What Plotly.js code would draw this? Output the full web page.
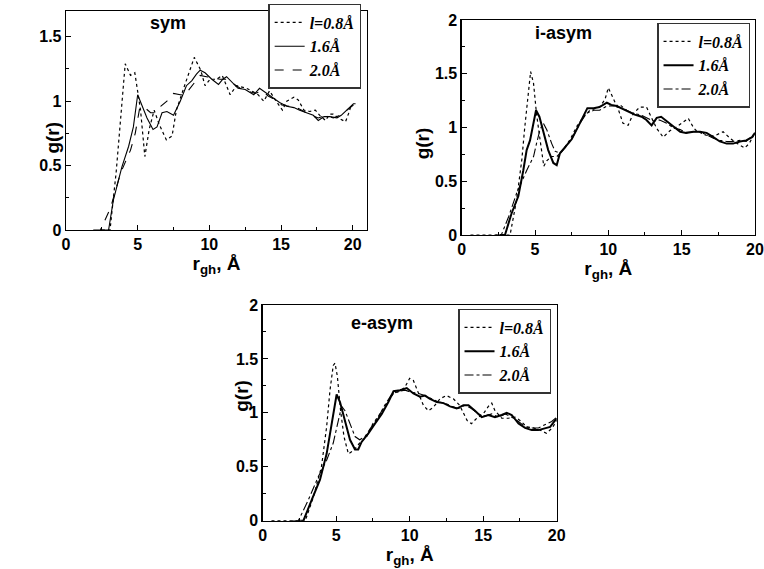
<!DOCTYPE html>
<html>
<head>
<meta charset="utf-8">
<script src="https://cdn.plot.ly/plotly-3.0.1.min.js"></script>
<style>html,body{margin:0;padding:0;background:#fff;}#chart{width:764px;height:569px;}</style>
</head>
<body>
<div id="chart"></div>
<script>
// ---- Panel "sym" ----
const symX_08 = [2.5,3.07,3.5,3.9,4.13,4.5,4.8,5.2,5.5,5.8,6.15,6.5,7.0,7.4,7.7,8.3,8.7,8.95,9.4,9.7,10.05,10.5,10.9,11.2,11.45,11.9,12.6,13.1,13.4,13.8,14.2,14.6,15.1,15.4,15.9,16.2,16.6,17.0,17.4,17.7,18.1,18.4,18.65,19.0,19.5,19.7,19.9];
const symY_08 = [0,0,0.45,1.0,1.29,1.2,1.22,0.93,0.57,0.78,0.93,0.82,0.70,0.73,0.93,1.13,1.25,1.34,1.24,1.12,1.17,1.17,1.2,1.11,1.05,1.12,1.1,1.07,1.05,1.0,1.08,1.01,0.93,1.0,1.03,1.01,0.93,0.92,0.93,0.89,0.85,0.9,0.9,0.87,0.84,0.9,0.97];
const symX_16 = [2.5,2.97,3.3,3.9,4.37,4.7,5.0,5.3,5.65,6.07,6.35,6.7,7.04,7.5,7.97,8.4,8.78,9.1,9.36,9.7,10.17,10.64,10.94,11.2,11.57,12.0,12.5,13.1,13.5,14.0,14.35,14.9,15.4,15.9,16.3,16.8,17.25,17.6,18.0,18.4,18.9,19.2,19.6,20.05,20.2];
const symY_16 = [0,0,0.23,0.49,0.65,0.8,1.05,0.96,0.87,0.78,0.8,0.91,0.92,0.89,1.0,1.12,1.16,1.21,1.24,1.22,1.17,1.13,1.17,1.19,1.15,1.1,1.09,1.05,1.1,1.06,1.03,0.99,0.96,0.95,0.93,0.91,0.89,0.85,0.88,0.88,0.87,0.89,0.93,0.98,0.98];
const symX_20 = [1.9,2.4,3.1,3.8,4.5,4.83,5.13,5.4,5.9,6.2,6.6,7.04,7.5,7.97,8.3,8.65,9.0,9.36,9.8,10.3,10.75,11.2,11.7,12.15,12.6,13.2,13.7,14.1,14.6,15.05,15.6,16.1,16.6,17.1,17.6,18.1,18.65,19.1,19.6,20.05];
const symY_20 = [0,0,0.17,0.44,0.62,0.75,0.94,0.96,0.91,0.91,0.96,1.0,1.06,1.05,1.05,1.10,1.15,1.2,1.19,1.18,1.17,1.17,1.13,1.1,1.08,1.06,1.08,1.04,1.01,0.97,0.96,0.95,0.92,0.89,0.87,0.89,0.87,0.89,0.93,0.97];

// ---- Panel "i-asym" ----
const iX_08 = [0.6,3.3,3.75,4.1,4.3,4.55,4.7,4.9,5.1,5.35,5.6,5.8,6.1,6.5,6.9,7.4,7.85,8.3,8.75,9.4,9.77,10.0,10.34,10.7,11.0,11.35,11.7,12.15,12.6,12.84,13.3,13.74,14.2,14.6,15.0,15.45,15.8,16.0,16.6,17.2,17.83,18.3,18.8,19.3,19.6,20.0];
const iY_08 = [0,0,0.33,0.7,1.0,1.35,1.52,1.41,1.13,0.88,0.64,0.69,0.73,0.73,0.79,0.89,1.01,1.1,1.16,1.19,1.26,1.37,1.26,1.16,1.04,1.02,1.13,1.19,1.19,1.12,0.99,0.91,0.97,1.0,1.04,1.085,1.0,0.97,0.93,0.92,0.96,0.9,0.85,0.81,0.85,0.95];
const iX_16 = [2.6,2.95,3.4,3.86,4.2,4.43,4.66,4.9,5.07,5.3,5.57,5.9,6.25,6.48,6.7,7.05,7.5,7.95,8.3,8.57,9.0,9.4,9.9,10.2,10.57,10.9,11.4,11.8,12.27,12.6,12.95,13.3,13.6,13.98,14.4,14.9,15.3,15.8,16.25,16.7,17.16,17.6,18.07,18.5,18.98,19.4,19.8,20.0];
const iY_16 = [0,0,0.2,0.36,0.6,0.79,0.88,1.04,1.16,1.1,0.95,0.79,0.67,0.65,0.76,0.82,0.89,1.01,1.1,1.18,1.18,1.19,1.23,1.21,1.2,1.18,1.15,1.12,1.1,1.07,1.02,1.09,1.1,1.06,1.01,0.96,0.95,0.96,0.96,0.95,0.91,0.87,0.85,0.85,0.87,0.88,0.91,0.95];
const iX_20 = [2.3,2.7,3.2,3.75,4.43,4.9,5.1,5.34,5.57,5.8,6.14,6.36,6.7,7.05,7.5,8.07,8.5,9.0,9.4,9.9,10.34,10.8,11.25,11.7,12.16,12.6,13.07,13.5,13.98,14.4,14.9,15.3,15.8,16.25,16.7,17.16,17.6,18.07,18.5,18.98,19.4,19.9];
const iY_20 = [0,0,0.17,0.39,0.6,0.73,0.85,0.98,1.04,0.98,0.85,0.78,0.76,0.81,0.89,1.04,1.13,1.16,1.16,1.2,1.2,1.21,1.16,1.13,1.12,1.09,1.06,1.07,1.04,1.0,0.98,0.95,0.96,0.96,0.93,0.9,0.88,0.87,0.87,0.88,0.87,0.93];

// ---- Panel "e-asym" ----
const eX_08 = [0.6,2.9,3.45,4.0,4.35,4.58,4.8,4.92,5.08,5.3,5.53,5.83,6.17,6.6,7.07,7.5,7.98,8.43,8.9,9.34,9.68,10.0,10.25,10.6,10.93,11.27,11.6,12.06,12.5,12.97,13.4,13.9,14.2,14.56,15.0,15.35,15.58,15.8,16.26,16.7,17.16,17.5,17.96,18.4,18.87,19.3,19.7,20.0];
const eY_08 = [0,0,0.22,0.5,0.87,1.21,1.44,1.46,1.34,1.02,0.78,0.62,0.65,0.72,0.78,0.9,0.99,1.09,1.18,1.2,1.24,1.32,1.3,1.18,1.07,1.02,1.05,1.13,1.16,1.13,1.07,0.93,0.9,0.95,0.99,1.06,1.09,1.02,0.95,0.95,0.96,0.93,0.87,0.86,0.84,0.81,0.86,0.93];
const eX_16 = [2.4,2.77,3.33,3.9,4.35,4.76,5.03,5.26,5.6,5.94,6.28,6.5,6.73,7.19,7.64,8.1,8.55,8.9,9.34,9.8,10.25,10.7,11.04,11.38,11.84,12.3,12.74,13.2,13.65,14.0,14.44,14.9,15.35,15.8,16.26,16.6,16.94,17.4,17.85,18.3,18.75,19.2,19.55,20.0];
const eY_16 = [0,0,0.19,0.38,0.62,0.93,1.17,1.1,0.93,0.75,0.66,0.66,0.73,0.81,0.9,0.99,1.1,1.2,1.21,1.23,1.18,1.15,1.16,1.13,1.1,1.09,1.06,1.04,1.07,1.07,1.02,0.96,0.98,0.96,0.98,1.0,0.98,0.9,0.86,0.84,0.84,0.86,0.87,0.95];
const eX_20 = [2.0,2.43,3.1,3.79,4.35,4.8,5.15,5.37,5.6,5.94,6.28,6.6,6.96,7.4,7.87,8.3,8.77,9.23,9.68,10.14,10.6,11.04,11.5,11.95,12.4,12.86,13.3,13.76,14.2,14.67,15.12,15.58,16.03,16.5,16.94,17.4,17.85,18.3,18.75,19.2,19.66,20.0];
const eY_20 = [0,0,0.19,0.41,0.56,0.72,0.93,1.06,1.02,0.9,0.78,0.75,0.78,0.87,0.96,1.07,1.17,1.2,1.21,1.19,1.18,1.16,1.13,1.1,1.09,1.06,1.04,1.07,1.04,0.99,0.97,0.99,0.96,0.99,0.96,0.92,0.87,0.86,0.86,0.89,0.92,0.96];

const legendNames = ["l=0.8Å", "1.6Å", "2.0Å"];
const panelLabels = ["sym", "i-asym", "e-asym"];
const yTitle = "g(r)";
const xTitle = "r<sub>gh</sub>, Å";
const yTickVals = [0, 0.5, 1, 1.5, 2];
const yTickText = ["0", "0.5", "1", "1.5", "2"];
const xTickVals = [0, 5, 10, 15, 20];

const panels = [
  {ax: "", leg: "legend", data: [[symX_08, symY_08, "dot"], [symX_16, symY_16, "solid"], [symX_20, symY_20, "dash"]], lw: [1.2, 1.1, 1.1]},
  {ax: "2", leg: "legend2", data: [[iX_08, iY_08, "dot"], [iX_16, iY_16, "solid"], [iX_20, iY_20, "dashdot"]], lw: [1.2, 2.0, 1.1]},
  {ax: "3", leg: "legend3", data: [[eX_08, eY_08, "dot"], [eX_16, eY_16, "solid"], [eX_20, eY_20, "dashdot"]], lw: [1.2, 2.0, 1.1]}
];

const traces = [];
panels.forEach(p => {
  p.data.forEach((d, i) => {
    traces.push({
      x: d[0], y: d[1], type: "scatter", mode: "lines",
      name: legendNames[i],
      line: {color: "#000", width: p.lw[i], dash: d[2]},
      xaxis: "x" + p.ax, yaxis: "y" + p.ax, legend: p.leg
    });
  });
});

const tickFont = {family: "Liberation Sans, Arial, sans-serif", size: 16, color: "#000", weight: "bold"};
const titleFont = {family: "Liberation Sans, Arial, sans-serif", size: 19, color: "#000", weight: "bold"};

function xAxis(domain, range, anchor) {
  return {
    domain: domain, range: range, anchor: anchor,
    tickvals: xTickVals, ticks: "inside", ticklen: 5, tickwidth: 1, tickcolor: "#000",
    minor: {dtick: 2.5, ticks: "inside", ticklen: 3, tickcolor: "#000"},
    showline: true, linecolor: "#000", linewidth: 1.3, mirror: true,
    showgrid: false, zeroline: false, tickfont: tickFont,
    title: {text: xTitle, font: titleFont, standoff: 2}
  };
}
function yAxis(domain, range, anchor) {
  return {
    domain: domain, range: range, anchor: anchor,
    tickvals: yTickVals, ticktext: yTickText, ticks: "inside", ticklen: 5, tickwidth: 1, tickcolor: "#000",
    minor: {dtick: 0.25, ticks: "inside", ticklen: 3, tickcolor: "#000"},
    showline: true, linecolor: "#000", linewidth: 1.3, mirror: true,
    showgrid: false, zeroline: false, tickfont: tickFont
  };
}

const legFont = {family: "Liberation Serif, Times New Roman, serif", size: 16, color: "#000", weight: "bold", style: "italic"};
function legend(x, y) {
  return {x: x, y: y, xref: "paper", yref: "paper", xanchor: "left", yanchor: "top",
    bordercolor: "#333", borderwidth: 1.5, bgcolor: "#fff", font: legFont,
    tracegroupgap: 0, itemwidth: 30};
}

const annFont = {family: "Liberation Sans, Arial, sans-serif", size: 18, color: "#000", weight: "bold"};

const layout = {
  width: 764, height: 569,
  margin: {l: 0, r: 0, t: 0, b: 0},
  paper_bgcolor: "#fff", plot_bgcolor: "#fff",
  showlegend: true,
  xaxis: xAxis([0.0864, 0.4804], [0, 21], "y"),
  yaxis: yAxis([0.5958, 0.9807], [0, 1.7], "x"),
  xaxis2: xAxis([0.6043, 0.9882], [0, 20], "y2"),
  yaxis2: yAxis([0.587, 0.9649], [0, 2], "x2"),
  xaxis3: xAxis([0.3438, 0.7287], [0, 20], "y3"),
  yaxis3: yAxis([0.0849, 0.464], [0, 2], "x3"),
  legend: legend(0.351, 0.993),
  legend2: legend(0.86, 0.9596),
  legend3: legend(0.5995, 0.457),
  annotations: [
    {text: panelLabels[0], x: 7.1, y: 1.61, xref: "x", yref: "y", showarrow: false, font: annFont},
    {text: panelLabels[1], x: 6.93, y: 1.88, xref: "x2", yref: "y2", showarrow: false, font: annFont},
    {text: panelLabels[2], x: 8.1, y: 1.83, xref: "x3", yref: "y3", showarrow: false, font: annFont},
    {text: yTitle, x: 0.0524, y: 0.789, xref: "paper", yref: "paper", textangle: -90, showarrow: false, font: titleFont},
    {text: yTitle, x: 0.5528, y: 0.7803, xref: "paper", yref: "paper", textangle: -90, showarrow: false, font: titleFont},
    {text: yTitle, x: 0.2997, y: 0.2736, xref: "paper", yref: "paper", textangle: -90, showarrow: false, font: titleFont}
  ]
};

Plotly.newPlot("chart", traces, layout, {displayModeBar: false, staticPlot: true});
</script>
</body>
</html>
